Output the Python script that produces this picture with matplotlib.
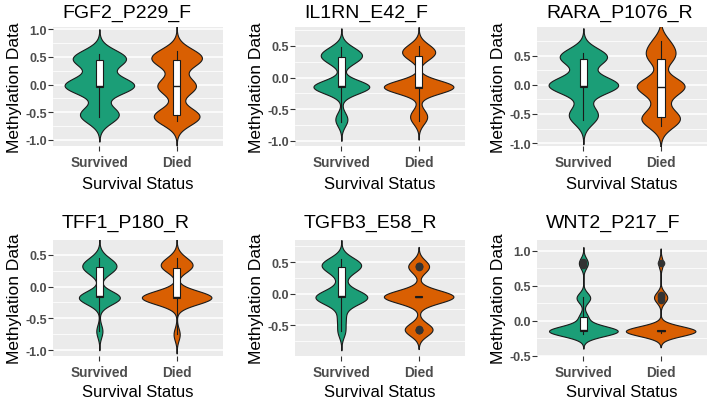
import numpy as np
import matplotlib
matplotlib.use("Agg")
from matplotlib import pyplot as plt

plt.rcParams["font.family"] = ["Liberation Sans", "DejaVu Sans"]

GROUPS = ["Survived", "Died"]
GROUP_COLORS = ["#1B9E77", "#D95F02"]

PROBES = ["FGF2_P229_F", "IL1RN_E42_F", "RARA_P1076_R",
          "TFF1_P180_R", "TGFB3_E58_R", "WNT2_P217_F"]

# methylation values (one list per probe and group)
fgf2_survived = [-0.58, -0.56, -0.55, -0.53, -0.5,
                 -0.05, -0.04, -0.03, -0.03, -0.03, -0.03, -0.02, 0.02, 0.06,
                 0.4, 0.45, 0.45, 0.46, 0.48, 0.5, 0.55]
fgf2_died = [-0.65, -0.6, -0.57, -0.55, -0.55, -0.54,
             -0.08, -0.04, -0.03, -0.02, 0.03,
             0.38, 0.45, 0.45, 0.47, 0.5, 0.53, 0.6]

il1rn_survived = [-0.7, -0.62,
                  -0.22, -0.18, -0.15, -0.14, -0.14, -0.13, -0.13, -0.13, -0.1,
                  0.22, 0.28, 0.32, 0.34, 0.36, 0.38, 0.42, 0.48]
il1rn_died = [-0.68, -0.62, -0.55,
              -0.2, -0.17, -0.16, -0.15, -0.15, -0.15, -0.14, -0.14, -0.13, -0.12, -0.1,
              0.33, 0.35, 0.38, 0.42, 0.46, 0.5]

rara_survived = [-0.6, -0.55, -0.5, -0.42,
                 -0.04, -0.03, -0.03, -0.03, -0.03, -0.02, 0.0, 0.05, 0.1,
                 0.44, 0.46, 0.46, 0.48, 0.5, 0.55]
rara_died = [-0.7, -0.6, -0.57, -0.55, -0.55,
             -0.3, -0.08, -0.04, -0.03, -0.02, 0.0, 0.05,
             0.44, 0.46, 0.55, 0.65, 0.75]

tff1_survived = [-0.7,
                 -0.25, -0.18, -0.17, -0.17, -0.16, -0.16, -0.15,
                 0.2, 0.27, 0.3, 0.32, 0.34, 0.38, 0.45]
tff1_died = [-0.75,
             -0.25, -0.2, -0.19, -0.18, -0.18, -0.17, -0.17, -0.17, -0.16, -0.16,
             -0.14, -0.1,
             0.28, 0.3, 0.32, 0.34, 0.38, 0.45]

tgfb3_survived = [-0.6, -0.4,
                  -0.2, -0.12, -0.06, -0.05, -0.05, -0.05, -0.04, -0.04, 0.1,
                  0.3, 0.4, 0.43, 0.44, 0.46, 0.5, 0.55]
tgfb3_died = [-0.58, -0.57, -0.57, -0.56,
              -0.06, -0.05, -0.05, -0.05, -0.05, -0.05, -0.05, -0.05, -0.04, -0.04,
              0.42, 0.43, 0.44]

wnt2_survived = [-0.19, -0.17, -0.16, -0.16, -0.15, -0.15, -0.15, -0.15,
                 -0.15, -0.15, -0.14, -0.14, -0.14, -0.13, -0.12,
                 0.02, 0.06, 0.3, 0.33, 0.34,
                 0.8, 0.84]
wnt2_died = [-0.17, -0.16, -0.16, -0.15, -0.15, -0.15, -0.15, -0.15,
             -0.15, -0.15, -0.15, -0.15, -0.14, -0.14, -0.13,
             0.3, 0.33, 0.36,
             0.82]

PANEL_DATA = [
    [fgf2_survived, fgf2_died],
    [il1rn_survived, il1rn_died],
    [rara_survived, rara_died],
    [tff1_survived, tff1_died],
    [tgfb3_survived, tgfb3_died],
    [wnt2_survived, wnt2_died],
]
BANDWIDTH = [0.15, 0.1, 0.14, 0.1, 0.1, 0.07]
YLIMS = [(-1.11, 1.04), (-1.08, 0.80), (-1.05, 0.99),
         (-1.09, 0.73), (-0.99, 0.85), (-0.505, 1.15)]
YTICKS = [[-1.0, -0.5, 0.0, 0.5, 1.0], [-1.0, -0.5, 0.0, 0.5],
          [-1.0, -0.5, 0.0, 0.5], [-1.0, -0.5, 0.0, 0.5],
          [-0.5, 0.0, 0.5], [-0.5, 0.0, 0.5, 1.0]]

W, H = 708, 402
COL_X = [(53, 223), (295, 465), (537, 707)]
ROW_Y = [(28, 147), (241, 357)]
TITLE_BASE = [18, 228]


def kde(values, bw, n_grid=512):
    # gaussian kde, not trimmed (like geom_violin(trim = FALSE))
    v = np.asarray(values, dtype=float)
    y = np.linspace(v.min() - 3 * bw, v.max() + 3 * bw, n_grid)
    d = np.exp(-0.5 * ((y[:, None] - v[None, :]) / bw) ** 2).sum(1)
    d = d / (len(v) * bw * np.sqrt(2 * np.pi))
    return y, d


def draw_panel(ax, data, bw):
    curves = [kde(v, bw) for v in data]
    # scale = "count"
    peak = max((d * len(v)).max() for (y, d), v in zip(curves, data))
    for i, ((y, d), v) in enumerate(zip(curves, data)):
        half = 0.45 * d * len(v) / peak
        ax.fill_betweenx(y, i + 1 - half, i + 1 + half, facecolor=GROUP_COLORS[i],
                         edgecolor="#1a1a1a", lw=0.8, zorder=2)

    ax.boxplot(data, positions=[1, 2], widths=0.1, patch_artist=True,
               showcaps=False, manage_ticks=False, zorder=3,
               boxprops=dict(facecolor="white", edgecolor="#1a1a1a", lw=0.8),
               medianprops=dict(color="#1a1a1a", lw=1.0),
               whiskerprops=dict(color="#1a1a1a", lw=0.8),
               flierprops=dict(marker="o", markerfacecolor="#333333",
                               markeredgecolor="#333333", markersize=4.5))


fig = plt.figure(figsize=(W / 100, H / 100), dpi=100)

for k, probe in enumerate(PROBES):
    r, c = divmod(k, 3)
    x0, x1 = COL_X[c]
    y0, y1 = ROW_Y[r]
    ax = fig.add_axes([x0 / W, 1 - y1 / H, (x1 - x0) / W, (y1 - y0) / H])

    draw_panel(ax, PANEL_DATA[k], BANDWIDTH[k])

    ax.set_xlim(0.4, 2.6)
    ax.set_ylim(*YLIMS[k])
    ax.set_facecolor("#EBEBEB")
    for s in ax.spines.values():
        s.set_visible(False)

    ticks = YTICKS[k]
    minor = [t + 0.25 for t in [ticks[0] - 0.5] + ticks]
    ax.set_yticks(ticks, ["%.1f" % t for t in ticks])
    ax.set_yticks([m for m in minor if YLIMS[k][0] < m < YLIMS[k][1]], minor=True)
    ax.set_xticks([1, 2], GROUPS)
    ax.grid(which="major", axis="y", color="white", lw=1.1)
    ax.grid(which="minor", axis="y", color="white", lw=0.55)
    ax.set_axisbelow(True)
    ax.tick_params(which="minor", length=0)
    ax.tick_params(which="major", length=3.5, width=0.8, color="#333333",
                   labelcolor="#4D4D4D", labelsize=9, pad=0.8)
    ax.tick_params(axis="x", pad=3, labelsize=9.8)
    for lab in ax.get_xticklabels() + ax.get_yticklabels():
        lab.set_fontweight("bold")

    ax.set_xlabel("Survival Status", fontsize=12, labelpad=5 if r == 0 else 3.5)
    ax.set_ylabel("Methylation Data", fontsize=12.5, labelpad=2.5)

    fig.text((x0 + 9) / W, 1 - TITLE_BASE[r] / H, probe, fontsize=14,
             ha="left", va="baseline")

fig.savefig("out.png", dpi=100)
